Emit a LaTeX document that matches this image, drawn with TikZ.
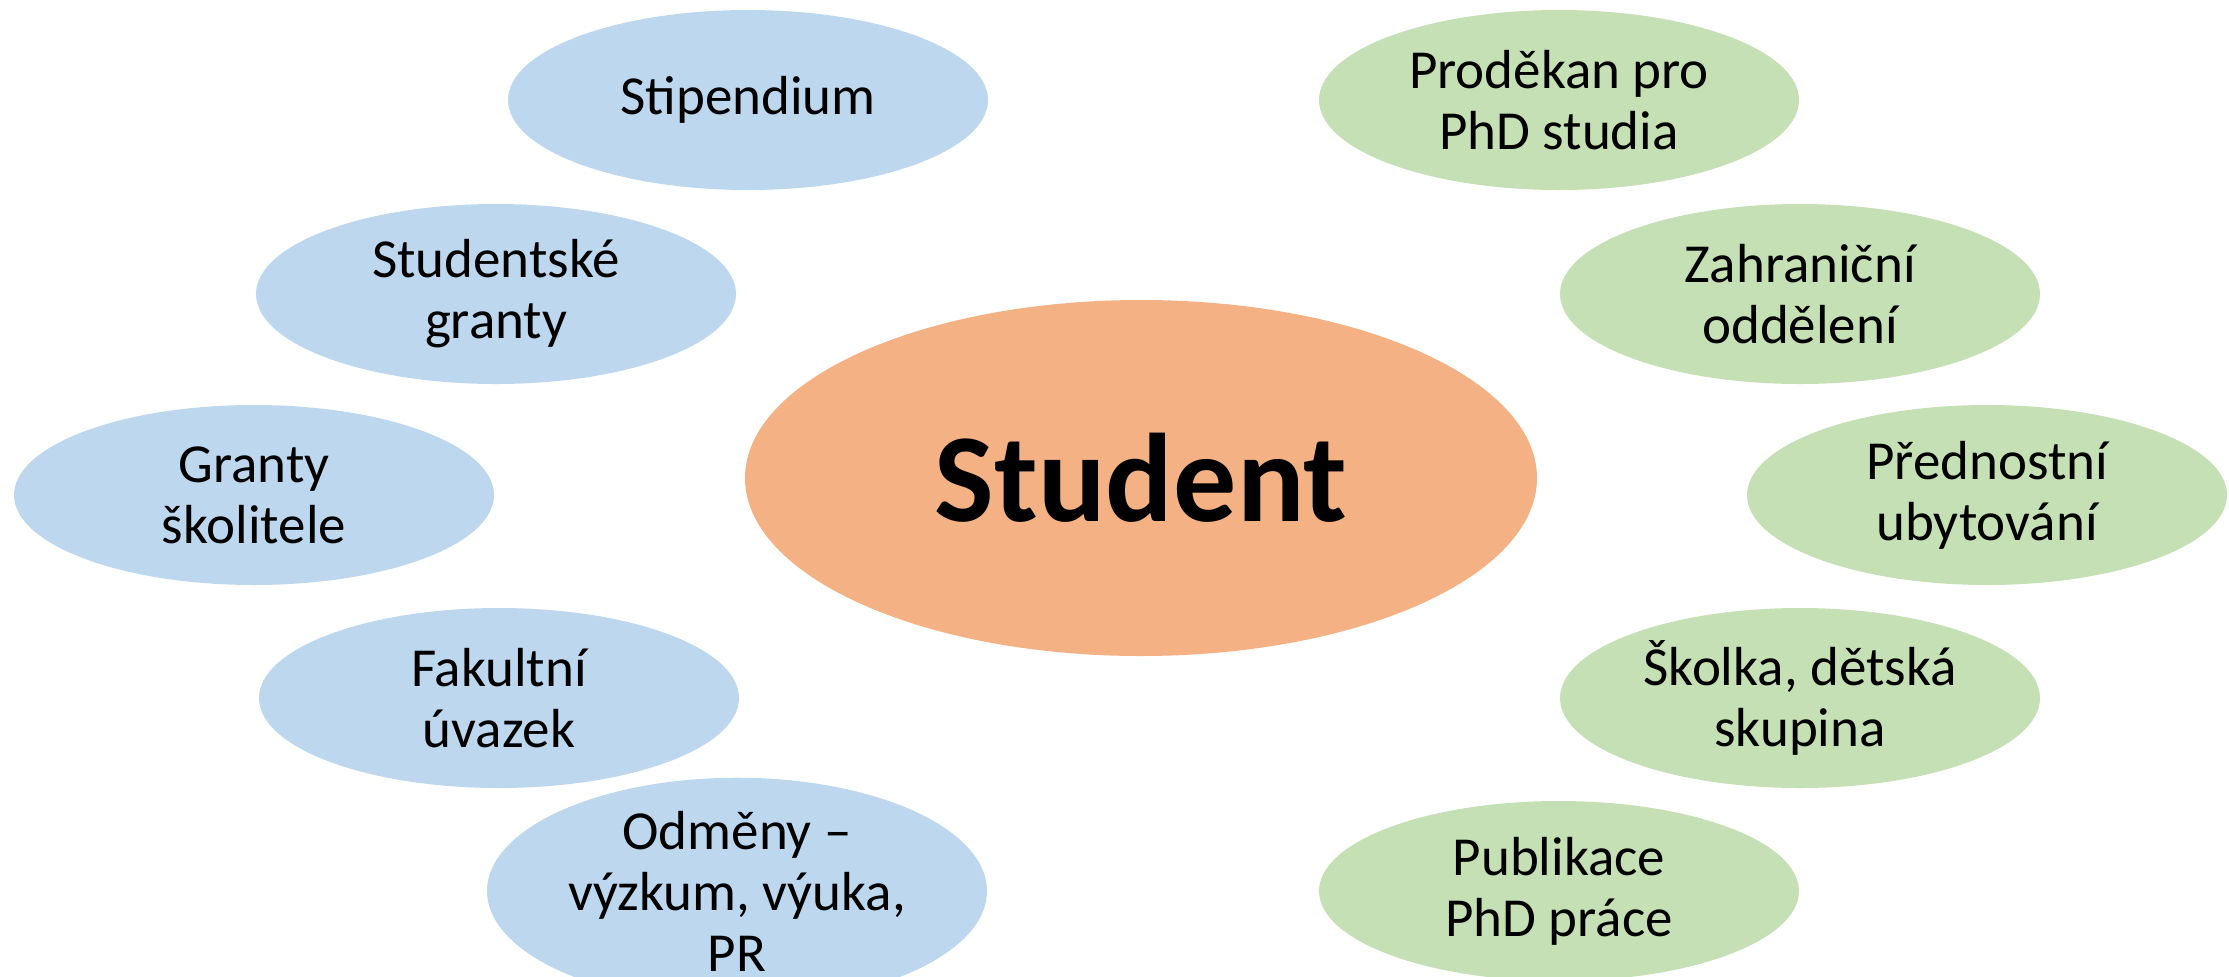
\documentclass[tikz,border=0pt]{standalone}
\usepackage{fontspec}
\setmainfont{Carlito}
\usetikzlibrary{shapes.geometric}
\definecolor{bluefill}{HTML}{BDD7EE}
\definecolor{greenfill}{HTML}{C5E0B4}
\definecolor{orangefill}{HTML}{F4B183}
\tikzset{
  bubble/.style={ellipse, inner sep=0pt, minimum width=240pt, minimum height=90pt,
    align=center, font=\fontsize{27.5}{30.5}\selectfont, text=black},
  bluebubble/.style={bubble, fill=bluefill},
  greenbubble/.style={bubble, fill=greenfill},
  centerbubble/.style={ellipse, inner sep=0pt, minimum width=396pt, minimum height=178pt,
    fill=orangefill, font=\fontsize{63}{69}\selectfont\bfseries, text=black}
}
\begin{document}
\begin{tikzpicture}[x=0.5pt,y=-0.5pt]
\useasboundingbox (0,0) rectangle (2229,976);
\node[centerbubble] (student) at (1141,478) {Student};
\node[bluebubble] (stip) at (748,100) {Stipendium};
\node[bluebubble] (sgrant) at (496,294) {Studentské\\granty};
\node[bluebubble] (gskol) at (254,495) {Granty\\školitele};
\node[bluebubble] (fak) at (499,698) {Fakultní\\úvazek};
\node[bluebubble, minimum width=250pt] (odm) at (737,891) {Odměny –\\výzkum, výuka,\\PR};
\node[greenbubble] (prod) at (1559,100) {Proděkan pro\\PhD studia};
\node[greenbubble] (zahr) at (1800,294) {Zahraniční\\oddělení};
\node[greenbubble] (pred) at (1987,495) {Přednostní\\ubytování};
\node[greenbubble] (skol) at (1800,698) {Školka, dětská\\skupina};
\node[greenbubble] (publ) at (1559,891) {Publikace\\PhD práce};
\end{tikzpicture}
\end{document}
